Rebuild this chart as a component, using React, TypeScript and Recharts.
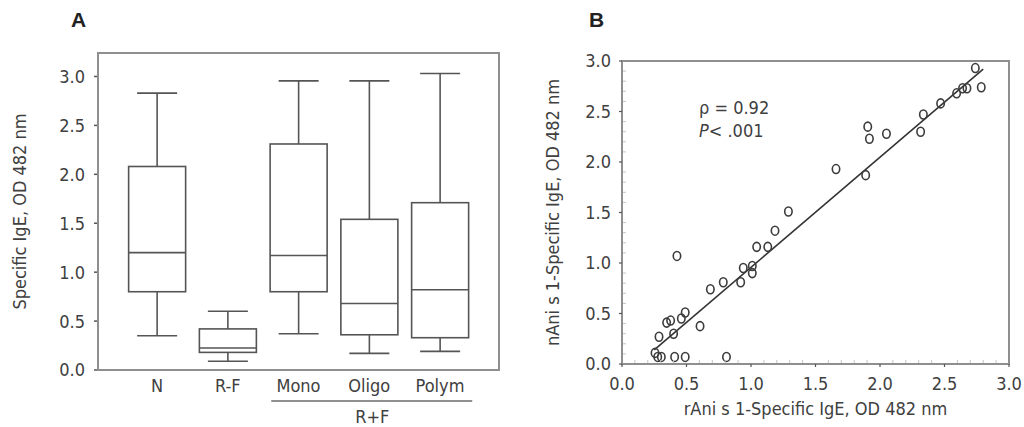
import React from 'react'
import { ComposedChart, Bar, XAxis, YAxis, ReferenceArea, ScatterChart, Scatter, ReferenceLine } from 'recharts'

// panel A: box plots per group
const groups = ['N', 'R-F', 'Mono', 'Oligo', 'Polym']
const groupPos = [0, 1, 2, 3, 4]
const whiskerLow = [0.35, 0.09, 0.37, 0.17, 0.19]
const q1 = [0.8, 0.18, 0.8, 0.36, 0.33]
const median = [1.2, 0.225, 1.17, 0.68, 0.82]
const q3 = [2.08, 0.42, 2.31, 1.54, 1.71]
const whiskerHigh = [2.83, 0.6, 2.955, 2.955, 3.03]
const yTicksA = [0, 0.5, 1, 1.5, 2, 2.5, 3]
const spanLabel = 'R+F'

// panel B: rAni s 1 vs nAni s 1
const rAni = [0.256, 0.277, 0.305, 0.287, 0.346, 0.377, 0.4, 0.408, 0.426, 0.46, 0.49, 0.49, 0.605, 0.685, 0.785, 0.81, 0.92, 0.94, 1.01, 1.01, 1.044, 1.13, 1.186, 1.29, 1.659, 1.889, 1.905, 1.918, 2.05, 2.315, 2.336, 2.47, 2.594, 2.64, 2.674, 2.739, 2.785]
const nAni = [0.11, 0.07, 0.07, 0.27, 0.41, 0.43, 0.3, 0.07, 1.07, 0.45, 0.51, 0.07, 0.375, 0.74, 0.81, 0.07, 0.81, 0.95, 0.97, 0.9, 1.16, 1.16, 1.32, 1.51, 1.93, 1.87, 2.35, 2.23, 2.28, 2.3, 2.47, 2.58, 2.68, 2.73, 2.73, 2.93, 2.74]
const fitLine = [{ x: 0.25, y: 0.14 }, { x: 2.8, y: 2.92 }]
const ticksB = [0, 0.1, 0.2, 0.3, 0.4, 0.5, 0.6, 0.7, 0.8, 0.9, 1, 1.1, 1.2, 1.3, 1.4, 1.5, 1.6, 1.7, 1.8, 1.9, 2, 2.1, 2.2, 2.3, 2.4, 2.5, 2.6, 2.7, 2.8, 2.9, 3]

const boxData = groups.map((g, i) => ({
  name: g,
  pos: groupPos[i],
  low: whiskerLow[i],
  q1: q1[i],
  median: median[i],
  q3: q3[i],
  high: whiskerHigh[i],
}))
const points = rAni.map((x, i) => ({ x, y: nAni[i] }))

const FONT = "'Liberation Sans Narrow', 'Arial Narrow', 'DejaVu Sans Condensed', sans-serif"
const TEXT = '#404040'
const FRAME = '#8f8f8f'
const INK = '#555'
const FS = 18

function BoxShape(props: any) {
  const { x, y, width, height, payload } = props
  const lo = payload.low
  const hi = payload.high
  const py = (v: number) => y + (height * (hi - v)) / (hi - lo)
  const cx = x + width / 2
  const cap = 20
  return (
    <g stroke={INK} strokeWidth={1.6} fill="none">
      <line x1={cx} x2={cx} y1={py(hi)} y2={py(payload.q3)} />
      <line x1={cx} x2={cx} y1={py(payload.q1)} y2={py(lo)} />
      <line x1={cx - cap} x2={cx + cap} y1={py(hi)} y2={py(hi)} />
      <line x1={cx - cap} x2={cx + cap} y1={py(lo)} y2={py(lo)} />
      <rect x={x} y={py(payload.q3)} width={width} height={py(payload.q1) - py(payload.q3)} />
      <line x1={x} x2={x + width} y1={py(payload.median)} y2={py(payload.median)} />
    </g>
  )
}

function XTickA({ x, y, payload }: any) {
  const i = payload.value
  return (
    <g fontFamily={FONT} fontSize={FS} fill={TEXT}>
      <text x={x} y={y + 9} dy="0.71em" textAnchor="middle">{groups[i]}</text>
      {i === 3 && (
        <>
          <line x1={x - 98} x2={x + 103} y1={y + 31} y2={y + 31} stroke={FRAME} strokeWidth={2} />
          <text x={x + 3} y={y + 53} textAnchor="middle">{spanLabel}</text>
        </>
      )}
    </g>
  )
}

function YTickA({ x, y, payload }: any) {
  return (
    <g>
      <line x1={x - 4} x2={x - 1} y1={y} y2={y} stroke={INK} strokeWidth={1.5} />
      <text x={x - 13} y={y} dy="0.36em" textAnchor="end" fontFamily={FONT} fontSize={FS} fill={TEXT}>
        {payload.value.toFixed(1)}
      </text>
    </g>
  )
}

const isMajor = (v: number) => Math.abs(v * 2 - Math.round(v * 2)) < 1e-6

function XTickB({ x, y, payload }: any) {
  const v = payload.value
  if (!isMajor(v)) return <line x1={x} x2={x} y1={y - 1} y2={y - 4} stroke="#c4c4c4" strokeWidth={1} />
  return (
    <g>
      <line x1={x} x2={x} y1={y} y2={y + 3} stroke={INK} strokeWidth={1.2} />
      <text x={x} y={y + 13} dy="0.71em" textAnchor="middle" fontFamily={FONT} fontSize={FS} fill={TEXT}>
        {v.toFixed(1)}
      </text>
    </g>
  )
}

function YTickB({ x, y, payload }: any) {
  const v = payload.value
  if (!isMajor(v)) return <line x1={x + 1} x2={x + 4} y1={y} y2={y} stroke="#c4c4c4" strokeWidth={1} />
  return (
    <g>
      <line x1={x - 3} x2={x} y1={y} y2={y} stroke={INK} strokeWidth={1.2} />
      <text x={x - 11} y={y} dy="0.36em" textAnchor="end" fontFamily={FONT} fontSize={FS} fill={TEXT}>
        {v.toFixed(1)}
      </text>
    </g>
  )
}

function Ring({ cx, cy }: any) {
  return <ellipse cx={cx} cy={cy} rx={3.7} ry={4.5} fill="none" stroke="#3c3c3c" strokeWidth={1.6} />
}

const titleStyle: React.CSSProperties = {
  position: 'absolute',
  fontFamily: "'Liberation Sans', Arial, sans-serif",
  fontWeight: 700,
  fontSize: 21,
  color: '#222',
  lineHeight: 1,
}

export default function App() {
  return (
    <div style={{ position: 'absolute', left: 0, top: 0, width: 1024, height: 427, background: '#fff' }}>
      <div style={{ ...titleStyle, left: 71, top: 9 }}>A</div>
      <div style={{ ...titleStyle, left: 589, top: 9 }}>B</div>

      <div style={{ position: 'absolute', left: 0, top: 0 }}>
        <ComposedChart width={520} height={427} data={boxData} margin={{ top: 53, right: 21, bottom: 0, left: 0 }}>
          <XAxis
            type="number"
            dataKey="pos"
            domain={[-0.834, 4.834]}
            ticks={groupPos}
            interval={0}
            allowDataOverflow
            axisLine={false}
            tickLine={false}
            tickSize={0}
            tickMargin={0}
            height={57}
            tick={<XTickA />}
          />
          <YAxis
            domain={[0, 3.24]}
            ticks={yTicksA}
            allowDataOverflow
            axisLine={false}
            tickLine={false}
            tickSize={0}
            tickMargin={0}
            width={98}
            tick={<YTickA />}
            label={{
              value: 'Specific IgE, OD 482 nm',
              angle: -90,
              position: 'insideLeft',
              offset: 20,
              style: { textAnchor: 'middle', fontFamily: FONT, fontSize: FS, fill: TEXT },
            }}
          />
          <ReferenceArea x1={-0.834} x2={4.834} y1={0} y2={3.24} fill="none" stroke={FRAME} strokeWidth={2} ifOverflow="visible" />
          <Bar dataKey={(d: any) => [d.low, d.high]} barSize={57} shape={<BoxShape />} isAnimationActive={false} />
        </ComposedChart>
      </div>

      <div style={{ position: 'absolute', left: 520, top: 0 }}>
        <ScatterChart width={504} height={427} margin={{ top: 61, right: 15, bottom: 0, left: 0 }}>
          <XAxis
            type="number"
            dataKey="x"
            domain={[0, 3]}
            ticks={ticksB}
            interval={0}
            allowDataOverflow
            axisLine={false}
            tickLine={false}
            tickSize={0}
            tickMargin={0}
            height={63}
            tick={<XTickB />}
            label={{
              value: 'rAni s 1-Specific IgE, OD 482 nm',
              position: 'insideBottom',
              offset: 12,
              style: { fontFamily: FONT, fontSize: FS, fill: TEXT },
            }}
          />
          <YAxis
            type="number"
            dataKey="y"
            domain={[0, 3]}
            ticks={ticksB}
            interval={0}
            allowDataOverflow
            axisLine={false}
            tickLine={false}
            tickSize={0}
            tickMargin={0}
            width={102}
            tick={<YTickB />}
            label={{
              value: 'nAni s 1-Specific IgE, OD 482 nm',
              angle: -90,
              position: 'insideLeft',
              offset: 33,
              style: { textAnchor: 'middle', fontFamily: FONT, fontSize: FS, fill: TEXT },
            }}
          />
          <ReferenceArea x1={0} x2={3} y1={0} y2={3} fill="none" stroke={FRAME} strokeWidth={2} ifOverflow="visible" />
          <ReferenceLine segment={fitLine} stroke="#333" strokeWidth={1.6} ifOverflow="visible" />
          <Scatter data={points} shape={<Ring />} isAnimationActive={false} />
        </ScatterChart>
      </div>

      <div style={{ position: 'absolute', left: 699, top: 96, fontFamily: FONT, fontSize: FS, color: TEXT, lineHeight: '23px' }}>
        <div>ρ = 0.92</div>
        <div><i>P</i>&lt; .001</div>
      </div>
    </div>
  )
}
